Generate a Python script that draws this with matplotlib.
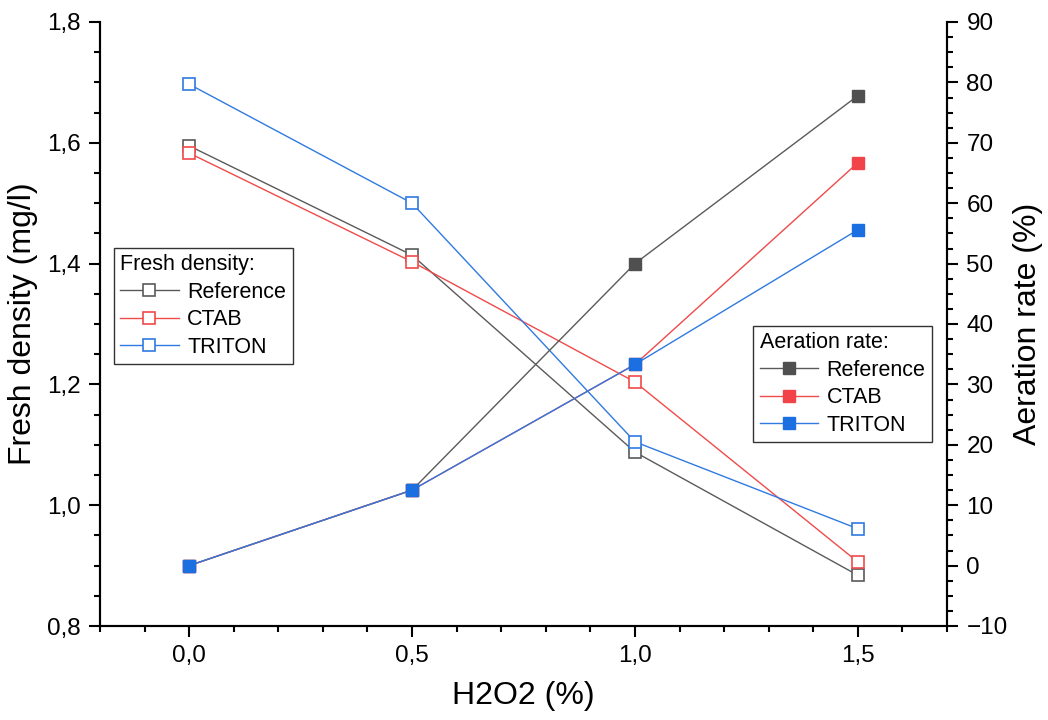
import matplotlib.pyplot as plt
from matplotlib.ticker import MultipleLocator, FuncFormatter
from matplotlib.lines import Line2D

plt.rcParams['font.family'] = 'Liberation Sans'

# H2O2 dosage and measured values
h2o2 = [0.0, 0.5, 1.0, 1.5]
series_names = ['Reference', 'CTAB', 'TRITON']

density_ref = [1.595, 1.414, 1.088, 0.884]
density_ctab = [1.583, 1.403, 1.204, 0.906]
density_triton = [1.697, 1.500, 1.105, 0.961]

aeration_ref = [0.0, 12.5, 50.0, 77.8]
aeration_ctab = [0.0, 12.5, 33.3, 66.7]
aeration_triton = [0.0, 12.5, 33.3, 55.6]

line_cols = ['#5a5a5a', '#f04a4a', '#2f7ae0']
fill_cols = ['#505050', '#f24448', '#1b6fe0']

fig = plt.figure(figsize=(10.48, 7.2), dpi=100)
ax = fig.add_axes([100 / 1048, 94 / 720, 847 / 1048, 604 / 720])
ax2 = ax.twinx()

dens = [density_ref, density_ctab, density_triton]
aer = [aeration_ref, aeration_ctab, aeration_triton]

for d, lc in zip(dens, line_cols):
    ax.plot(h2o2, d, color=lc, lw=1.0, marker='s', ms=9,
            mfc='white', mec=lc, mew=1.2)

for a, lc, fc in zip(aer, line_cols, fill_cols):
    ax2.plot(h2o2, a, color=lc, lw=1.0, marker='s', ms=9,
             mfc=fc, mec=fc, mew=1.0)

ax.set_xlim(-0.2, 1.7)
ax.set_ylim(0.8, 1.8)
ax2.set_ylim(-10, 90)

comma1 = FuncFormatter(lambda v, p: f'{v:.1f}'.replace('.', ','))
ax.xaxis.set_major_locator(MultipleLocator(0.5))
ax.xaxis.set_minor_locator(MultipleLocator(0.1))
ax.xaxis.set_major_formatter(comma1)
ax.yaxis.set_major_locator(MultipleLocator(0.2))
ax.yaxis.set_minor_locator(MultipleLocator(0.05))
ax.yaxis.set_major_formatter(comma1)
ax2.yaxis.set_major_locator(MultipleLocator(10))
ax2.yaxis.set_minor_locator(MultipleLocator(2.5))

for a in (ax, ax2):
    a.spines['top'].set_visible(False)
    for s in a.spines.values():
        s.set_linewidth(1.5)
    a.tick_params(which='major', direction='out', length=8, width=1.5,
                  labelsize=17.5, pad=6)
    a.tick_params(which='minor', direction='out', length=4.5, width=1.5)

ax.set_xlabel('H2O2 (%)', fontsize=23, labelpad=10)
ax.set_ylabel('Fresh density (mg/l)', fontsize=23, labelpad=6)
ax2.set_ylabel('Aeration rate (%)', fontsize=23, labelpad=4)

h1 = [Line2D([], [], color=lc, lw=1.0, marker='s', ms=9, mfc='white',
             mec=lc, mew=1.2) for lc in line_cols]
h2 = [Line2D([], [], color=lc, lw=1.0, marker='s', ms=9, mfc=fc,
             mec=fc) for lc, fc in zip(line_cols, fill_cols)]

leg_kw = dict(fontsize=15.5, title_fontsize=15.5, frameon=True,
              fancybox=False, edgecolor='black', handlelength=2.7,
              handletextpad=0.4, labelspacing=0.3, borderpad=0.3,
              borderaxespad=0)

leg1 = ax.legend(h1, series_names, title='Fresh density:', loc='upper left',
                 bbox_to_anchor=(0.0165, 0.626), **leg_kw)
leg1._legend_box.align = 'left'
leg1.get_frame().set_linewidth(1.0)

leg2 = ax2.legend(h2, series_names, title='Aeration rate:', loc='upper right',
                  bbox_to_anchor=(0.982, 0.497), **leg_kw)
leg2._legend_box.align = 'left'
leg2.get_frame().set_linewidth(1.0)

fig.savefig('out.png', dpi=100)
